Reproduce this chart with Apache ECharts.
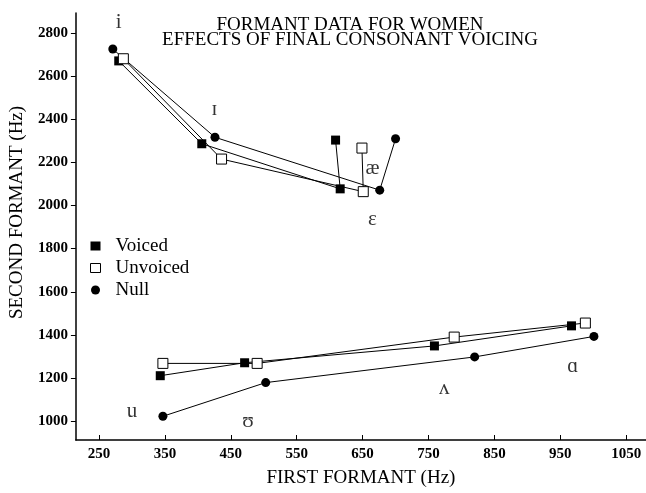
<!DOCTYPE html>
<html>
<head>
<meta charset="utf-8">
<script src="https://cdn.jsdelivr.net/npm/echarts@6/dist/echarts.min.js"></script>
<style>
html,body{margin:0;padding:0;background:#fff;}
#chart{width:646px;height:493px;}
</style>
</head>
<body>
<div id="chart"></div>
<script>
// ---- data (F1, F2 in Hz) ----
const frontVowels = ['i', 'ɪ', 'ɛ', 'æ'];
const backVowels = ['u', 'ʊ', 'ʌ', 'ɑ'];

const voicedF1Front = [280, 406, 616, 609];
const voicedF2Front = [2670, 2286, 2077, 2303];
const unvoicedF1Front = [287, 436, 651, 649];
const unvoicedF2Front = [2680, 2215, 2064, 2266];
const nullF1Front = [271, 426, 676, 700];
const nullF2Front = [2725, 2316, 2071, 2309];

const voicedF1Back = [343, 471, 759, 967];
const voicedF2Back = [1211, 1271, 1349, 1442];
const unvoicedF1Back = [347, 490, 789, 988];
const unvoicedF2Back = [1268, 1268, 1390, 1455];
const nullF1Back = [347, 503, 820, 1001];
const nullF2Back = [1023, 1179, 1298, 1393];

const vowelLabels = ['i', 'ɪ', 'æ', 'ɛ', 'u', 'ʊ', 'ʌ', 'ɑ'];
const vowelLabelF1 = [280, 425, 665, 665, 300, 476, 774, 969];
const vowelLabelF2 = [2850, 2446, 2171, 1934, 1046, 1000, 1150, 1253];

const xTicks = [250, 350, 450, 550, 650, 750, 850, 950, 1050];
const yTicks = [1000, 1200, 1400, 1600, 1800, 2000, 2200, 2400, 2600, 2800];

const seriesNames = ['Voiced', 'Unvoiced', 'Null'];
const titleLines = ['FORMANT DATA FOR WOMEN', 'EFFECTS OF FINAL CONSONANT VOICING'];
const xName = 'FIRST FORMANT (Hz)';
const yName = 'SECOND FORMANT (Hz)';

// ---- build ----
const FONT = "'Liberation Serif', 'DejaVu Serif', serif";
function pairs(xs, ys, names) {
  return xs.map((x, i) => ({ value: [x, ys[i]], name: names[i] }));
}
const styles = {
  Voiced: { symbol: 'rect', symbolSize: 9, itemStyle: { color: '#000' } },
  Unvoiced: { symbol: 'rect', symbolSize: 10, itemStyle: { color: '#fff', borderColor: '#000', borderWidth: 1 } },
  Null: { symbol: 'circle', symbolSize: 9, itemStyle: { color: '#000' } }
};
function lineSeries(name, xs, ys, names) {
  const s = styles[name];
  return {
    type: 'line', name: name, data: pairs(xs, ys, names),
    symbol: s.symbol, symbolSize: s.symbolSize, itemStyle: s.itemStyle,
    lineStyle: { color: '#000', width: 1 }, showAllSymbol: true,
    animation: false, z: 3
  };
}
const series = [
  lineSeries('Voiced', voicedF1Front, voicedF2Front, frontVowels),
  lineSeries('Voiced', voicedF1Back, voicedF2Back, backVowels),
  lineSeries('Unvoiced', unvoicedF1Front, unvoicedF2Front, frontVowels),
  lineSeries('Unvoiced', unvoicedF1Back, unvoicedF2Back, backVowels),
  lineSeries('Null', nullF1Front, nullF2Front, frontVowels),
  lineSeries('Null', nullF1Back, nullF2Back, backVowels),
  {
    type: 'scatter', name: 'vowels', symbolSize: 1,
    itemStyle: { color: 'rgba(0,0,0,0)' },
    data: pairs(vowelLabelF1, vowelLabelF2, vowelLabels),
    label: { show: true, position: 'inside', formatter: p => p.name,
      fontFamily: FONT, fontSize: 21, color: '#000' },
    silent: true, animation: false, z: 4
  }
];

const chart = echarts.init(document.getElementById('chart'), null, { renderer: 'canvas' });
chart.setOption({
  backgroundColor: '#fff',
  animation: false,
  title: {
    text: titleLines.join('\n'),
    left: 345, top: 13, textAlign: 'center',
    textStyle: { fontFamily: FONT, fontSize: 19, fontWeight: 'normal', color: '#000', lineHeight: 15 }
  },
  legend: {
    orient: 'vertical', left: 85, top: 231,
    itemWidth: 10, itemHeight: 9, itemGap: 2,
    textStyle: { fontFamily: FONT, fontSize: 19, color: '#000', lineHeight: 20, padding: [0, 0, 0, 10] },
    data: [
      { name: seriesNames[0], icon: 'rect', itemStyle: { color: '#000' } },
      { name: seriesNames[1], icon: 'rect', itemStyle: { color: '#fff', borderColor: '#000', borderWidth: 1 } },
      { name: seriesNames[2], icon: 'circle', itemStyle: { color: '#000' } }
    ]
  },
  grid: { left: 74, right: 0, top: 13, bottom: 49, containLabel: false },
  xAxis: {
    type: 'value', min: 215, max: 1080,
    name: xName, nameLocation: 'middle', nameGap: 29,
    nameTextStyle: { fontFamily: FONT, fontSize: 19, color: '#000' },
    axisLine: { show: true, lineStyle: { color: '#000', width: 1.5 } },
    axisTick: { show: true, inside: true, length: 5, customValues: xTicks, lineStyle: { color: '#000' } },
    axisLabel: { customValues: xTicks, formatter: v => String(v), margin: 7, fontFamily: FONT, fontSize: 15, color: '#000', fontWeight: 'bold' },
    splitLine: { show: false }
  },
  yAxis: {
    type: 'value', min: 913, max: 2892,
    name: yName, nameLocation: 'middle', nameGap: 37, nameRotate: 90,
    nameTextStyle: { fontFamily: FONT, fontSize: 19, color: '#000', padding: [0, 0, 0, 28] },
    axisLine: { show: true, lineStyle: { color: '#000', width: 1.5 } },
    axisTick: { show: true, inside: false, length: 5, customValues: yTicks, lineStyle: { color: '#000' } },
    axisLabel: { customValues: yTicks, formatter: v => String(v), margin: 8, fontFamily: FONT, fontSize: 15, color: '#000', fontWeight: 'bold' },
    splitLine: { show: false }
  },
  series: series
});
</script>
</body>
</html>
